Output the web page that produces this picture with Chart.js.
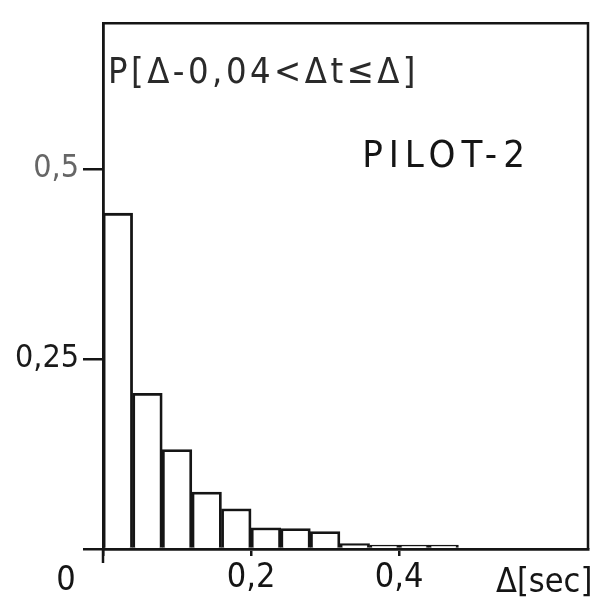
<!DOCTYPE html>
<html>
<head>
<meta charset="utf-8">
<script src="https://cdn.jsdelivr.net/npm/chart.js@4/dist/chart.umd.min.js"></script>
<style>
html,body{margin:0;padding:0;background:#fff;}
#wrap{width:600px;height:616px;}
</style>
</head>
<body>
<div id="wrap"><canvas id="c" width="600" height="616"></canvas></div>
<script>
// bin centres (bin width 0.04 s) and probabilities
const binCenters = [0.02, 0.06, 0.10, 0.14, 0.18, 0.22, 0.26, 0.30, 0.34, 0.38, 0.42, 0.46];
const probs      = [0.442, 0.205, 0.131, 0.075, 0.053, 0.028, 0.027, 0.023, 0.007, 0.005, 0.005, 0.005];
const xTicks = [0, 0.2, 0.4];
const xTickLabels = ['', '0,2', '0,4'];
const yTicks = [0, 0.25, 0.5];
const yTickLabels = ['', '0,25', '0,5'];
const yTickColors = ['#111', '#1a1a1a', '#666'];
const titleText = 'P[Δ-0,04<Δt≤Δ]';
const seriesLabel = 'PILOT-2';
const xAxisLabel = 'Δ[sec]';
const originLabel = '0';

const FONT = "'Liberation Sans Narrow', 'DejaVu Sans Condensed', 'DejaVu Sans', sans-serif";
const INK = '#151515';

const framePlugin = {
  id: 'frame',
  afterDraw(chart) {
    const {ctx, chartArea: a, scales} = chart;
    const x = scales.x, y = scales.y;
    ctx.save();
    ctx.strokeStyle = INK;
    ctx.lineWidth = 2.5;
    ctx.beginPath();
    ctx.moveTo(a.left, a.top);
    ctx.lineTo(a.right, a.top);
    ctx.lineTo(a.right, a.bottom);
    ctx.stroke();
    // longer tick at the origin
    const x0 = x.getPixelForValue(0);
    ctx.beginPath();
    ctx.moveTo(x0, a.bottom);
    ctx.lineTo(x0, a.bottom + 14);
    ctx.stroke();
    ctx.fillStyle = INK;
    ctx.textBaseline = 'middle';
    // origin label
    ctx.font = "34px " + FONT;
    ctx.textAlign = 'center';
    ctx.fillText(originLabel, x0 - 37, a.bottom + 32);
    // axis unit
    ctx.textAlign = 'left';
    ctx.fillText(xAxisLabel, a.right - 92, a.bottom + 34);
    // y title inside frame
    ctx.fillStyle = '#2a2a2a';
    ctx.font = "36px " + FONT;
    try { ctx.letterSpacing = '3.5px'; } catch(e) {}
    ctx.fillText(titleText, a.left + 5, a.top + 50);
    // series label
    ctx.fillStyle = INK;
    ctx.font = "38px " + FONT;
    try { ctx.letterSpacing = '6px'; } catch(e) {}
    ctx.fillText(seriesLabel, x.getPixelForValue(0.35), y.getPixelForValue(0.516));
    ctx.restore();
  }
};

new Chart(document.getElementById('c'), {
  type: 'bar',
  data: {
    datasets: [{
      data: binCenters.map((c, i) => ({x: c, y: probs[i]})),
      backgroundColor: '#ffffff',
      borderColor: INK,
      borderWidth: 2.8,
      borderSkipped: 'bottom',
      barPercentage: 1,
      categoryPercentage: 1
    }]
  },
  options: {
    responsive: false,
    devicePixelRatio: 1,
    animation: false,
    layout: {padding: {top: 15, right: 12, left: 0, bottom: 0}},
    plugins: {legend: {display: false}, tooltip: {enabled: false}},
    scales: {
      x: {
        type: 'linear',
        offset: false,
        min: 0,
        max: 0.655,
        afterBuildTicks: s => { s.ticks = xTicks.map(v => ({value: v})); },
        afterFit: s => { s.height = 67; },
        ticks: {
          autoSkip: false,
          maxRotation: 0,
          padding: 2,
          color: INK,
          font: {family: FONT, size: 34},
          callback: (v) => xTickLabels[xTicks.indexOf(v)]
        },
        grid: {display: true, offset: false, drawOnChartArea: false, tickLength: 7, color: INK, lineWidth: 2.5},
        border: {display: true, color: INK, width: 2.8}
      },
      y: {
        type: 'linear',
        min: 0,
        max: 0.692,
        afterBuildTicks: s => { s.ticks = yTicks.map(v => ({value: v})); },
        afterFit: s => { s.width = 103; },
        ticks: {
          autoSkip: false,
          padding: 4,
          color: ctx => yTickColors[yTicks.indexOf(ctx.tick.value)],
          font: {family: FONT, size: 32},
          callback: (v) => yTickLabels[yTicks.indexOf(v)]
        },
        grid: {display: true, drawOnChartArea: false, tickLength: 20, color: INK, lineWidth: 2.5},
        border: {display: true, color: INK, width: 2.8}
      }
    }
  },
  plugins: [framePlugin]
});
</script>
</body>
</html>
